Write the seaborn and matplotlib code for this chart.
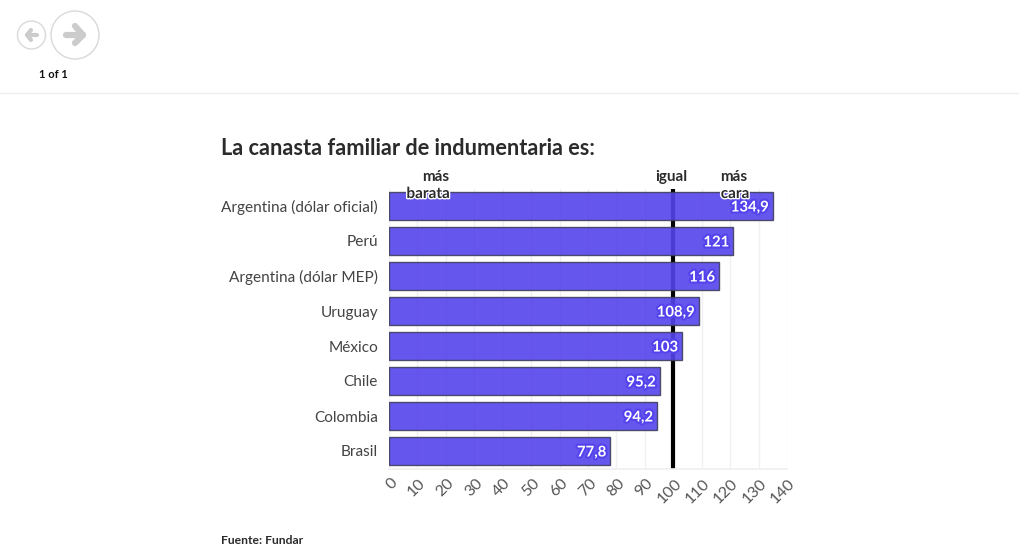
#!/usr/bin/env python3
# -*- coding: utf-8 -*-
import pandas as pd
import matplotlib
matplotlib.use('Agg')
import matplotlib.pyplot as plt
import matplotlib.patheffects as pe
from matplotlib.patches import Circle
from matplotlib.transforms import ScaledTranslation
import seaborn as sns

countries = ['Argentina (dólar oficial)', 'Perú', 'Argentina (dólar MEP)', 'Uruguay',
             'México', 'Chile', 'Colombia', 'Brasil']
values = [134.9, 121, 116, 108.9, 103, 95.2, 94.2, 77.8]
value_labels = ['134,9', '121', '116', '108,9', '103', '95,2', '94,2', '77,8']
x_ticks = list(range(0, 150, 10))
reference_value = 100

W, H = 1020, 557
BAR = '#5443EC'
INK = '#2b2b2b'

sns.set_theme(style='white')
plt.rcParams['font.family'] = ['Lato', 'DejaVu Sans']

df = pd.DataFrame({'pais': countries, 'valor': values})

fig = plt.figure(figsize=(W / 100, H / 100), dpi=100, facecolor='white')
ax = fig.add_axes([389 / W, 1 - 468.5 / H, (787 - 389) / W, 280 / H])

ax.axvline(reference_value, color='black', lw=3, zorder=1.5)
sns.barplot(data=df, x='valor', y='pais', ax=ax, color=BAR, saturation=1, width=0.82,
            alpha=0.9, edgecolor='#3f3f5f', linewidth=1, zorder=2)

ax.set_xlim(0, 140)
ax.set_ylim(7.5, -0.5)
ax.set_xlabel('')
ax.set_ylabel('')
ax.set_xticks(x_ticks)
ax.set_xticklabels([str(t) for t in x_ticks], rotation=45, ha='right', va='center',
                   rotation_mode='anchor', fontsize=11.5, color='#555555')
ax.tick_params(axis='x', length=0, pad=9)
# las etiquetas terminan unos pixeles a la derecha de la marca
shift = ScaledTranslation(6 / 100, 0, fig.dpi_scale_trans)
for lab in ax.get_xticklabels():
    lab.set_transform(lab.get_transform() + shift)
ax.tick_params(axis='y', length=4, color='#f0f0f0', width=1, pad=4, labelsize=11.1, labelcolor='#444444')
ax.grid(axis='x', color='#f0f0f0', lw=1, zorder=0)
ax.set_axisbelow(True)
for side in ['top', 'right', 'left']:
    ax.spines[side].set_visible(False)
ax.spines['bottom'].set_color('#f0f0f0')

halo = [pe.withStroke(linewidth=3, foreground=BAR)]
for i, (v, lab) in enumerate(zip(values, value_labels)):
    ax.text(v - 1.3, i, lab, ha='right', va='center_baseline', color='white', fontsize=10.7,
            fontweight='bold', path_effects=halo, zorder=5)

white_halo = [pe.withStroke(linewidth=2, foreground='white')]
def top_note(px, py, text):
    t = fig.text(px / W, 1 - py / H, text, ha='center', va='center', fontsize=11,
                 fontweight='bold', color=INK, zorder=6)
    return t

top_note(436, 177, 'más')
top_note(428, 194, 'barata').set_path_effects(white_halo)
top_note(671, 177, 'igual')
top_note(734, 177, 'más')
top_note(735, 194, 'cara').set_path_effects(white_halo)

fig.text(221 / W, 1 - 148.5 / H, 'La canasta familiar de indumentaria es:', ha='left', va='center',
         fontsize=15.7, fontweight='bold', color=INK)
fig.text(221 / W, 1 - 540 / H, 'Fuente: Fundar', ha='left', va='center', fontsize=8.7,
         fontweight='bold', color=INK)

# barra de navegacion de arriba
nav = fig.add_axes([0, 0, 1, 1], zorder=-1)
nav.set_xlim(0, W)
nav.set_ylim(H, 0)
nav.axis('off')
nav.add_patch(Circle((31.5, 35), 14, fill=False, ec='#d9d9d9', lw=1))
nav.add_patch(Circle((75, 35), 24, fill=False, ec='#d9d9d9', lw=1))
nav.plot([37, 27], [35, 35], color='#cccccc', lw=3, solid_capstyle='round')
nav.plot([31, 27, 31], [30, 35, 40], color='#cccccc', lw=3, solid_capstyle='round', solid_joinstyle='round')
nav.plot([66, 83], [35, 35], color='#cccccc', lw=4.5, solid_capstyle='round')
nav.plot([75, 83, 75], [26, 35, 43], color='#cccccc', lw=4.5, solid_capstyle='round', solid_joinstyle='round')
nav.plot([0, W], [92.5, 92.5], color='#eeeeee', lw=1)
nav.text(53, 74, '1 of 1', ha='center', va='center', fontsize=8, fontweight='bold', color='#111111')

fig.savefig('out.png', dpi=100)
